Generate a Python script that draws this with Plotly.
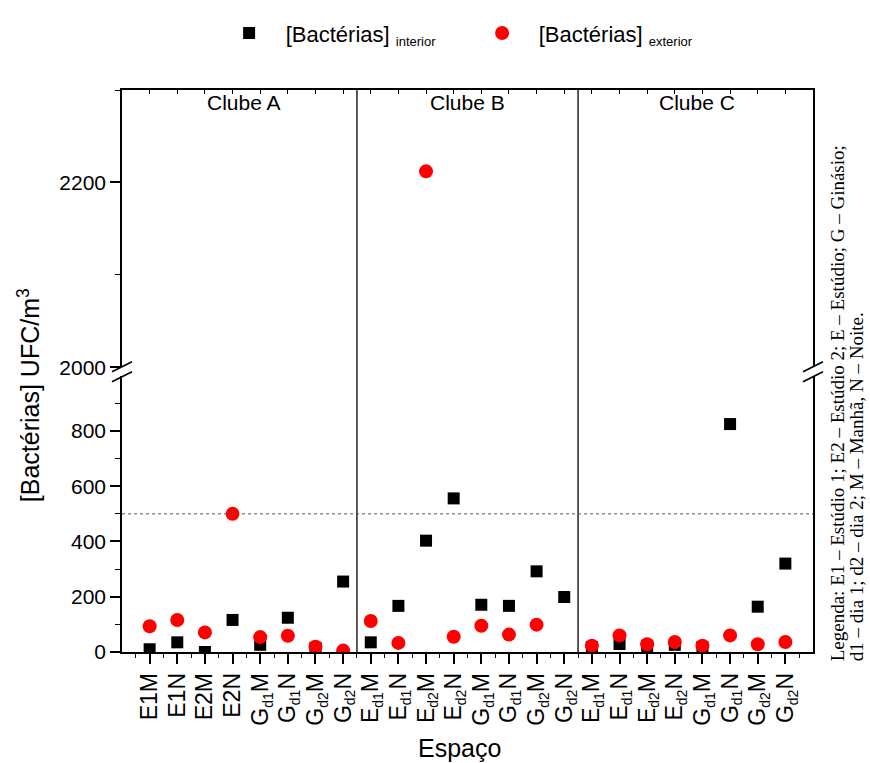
import plotly.graph_objects as go

# ---------------- data ----------------
def sub(s):
    return "<sub><span style='font-size:14px'>" + s + "</span></sub>"

categories = (
    ["E1M", "E1N", "E2M", "E2N",
     "G" + sub("d1") + "M", "G" + sub("d1") + "N", "G" + sub("d2") + "M", "G" + sub("d2") + "N"]
    + ["E" + sub("d1") + "M", "E" + sub("d1") + "N", "E" + sub("d2") + "M", "E" + sub("d2") + "N",
       "G" + sub("d1") + "M", "G" + sub("d1") + "N", "G" + sub("d2") + "M", "G" + sub("d2") + "N"] * 2
)
clubs = ["Clube A", "Clube B", "Clube C"]
interior = [10, 35, 0, 116, 26, 124, 15, 255,
            35, 167, 403, 556, 171, 167, 292, 199,
            18, 29, 22, 26, 18, 825, 164, 320]
exterior = [93, 116, 71, 500, 54, 59, 19, 5,
            112, 33, 2212, 55, 95, 63, 99, None,
            23, 60, 28, 36, 23, 60, 28, 36]
limit_line = 500
high_range = [2000, 2300]
low_range = [0, 999]

xs = list(range(len(categories)))

def low(v):
    return [a if (a is not None and a < 1000) else None for a in v]

def high(v):
    return [a if (a is not None and a >= 2000) else None for a in v]

FONT = "Liberation Sans, Arial, sans-serif"

fig = go.Figure()
sq = dict(symbol="square", size=12, color="black")
ci = dict(symbol="circle", size=14, color="#ff0000")
GAP = "\u00a0\u00a0\u2009"
lab_int = GAP + "[Bactérias] <sub><span style='font-size:13px'>interior</span></sub>"
lab_ext = GAP + "[Bactérias] <sub><span style='font-size:13px'>exterior</span></sub>"

fig.add_trace(go.Scatter(x=xs, y=low(interior), mode="markers", marker=sq,
                         name=lab_int, xaxis="x", yaxis="y"))
fig.add_trace(go.Scatter(x=xs, y=low(exterior), mode="markers", marker=ci,
                         name=lab_ext, xaxis="x", yaxis="y"))
fig.add_trace(go.Scatter(x=xs, y=high(interior), mode="markers", marker=sq,
                         showlegend=False, xaxis="x2", yaxis="y2"))
fig.add_trace(go.Scatter(x=xs, y=high(exterior), mode="markers", marker=ci,
                         showlegend=False, xaxis="x2", yaxis="y2"))

LW = 1.6
common_x = dict(range=[-1, len(categories)], showgrid=False, zeroline=False,
                showline=True, linecolor="black", linewidth=LW)
right_ticks = dict(side="right", showline=False, showgrid=False, zeroline=False,
                   showticklabels=False, ticks="inside", ticklen=5, tickwidth=1,
                   tickcolor="black", tickmode="linear", dtick=100)

fig.update_layout(
    width=870, height=763,
    margin=dict(l=122, r=57, t=90, b=111),
    paper_bgcolor="white", plot_bgcolor="white",
    font=dict(family=FONT, color="black", size=21),
    showlegend=True,
    legend=dict(orientation="h", x=0.155, xanchor="left", y=1.101, yanchor="middle",
                font=dict(size=22, family=FONT), entrywidth=208, entrywidthmode="pixels",
                bgcolor="rgba(0,0,0,0)", itemclick=False),
    xaxis=dict(**common_x, anchor="y", tickmode="array", tickvals=xs, ticktext=categories,
               tickangle=-90, ticks="outside", ticklen=10, tickwidth=LW, tickcolor="black",
               tickfont=dict(size=23, family=FONT),
               minor=dict(tickvals=[i + 0.5 for i in range(-1, len(categories))],
                          ticks="outside", ticklen=4, tickcolor="black", tickwidth=1)),
    xaxis2=dict(**common_x, anchor="y2", side="top", matches="x", tickmode="array",
                tickvals=xs, showticklabels=False, ticks="inside", ticklen=4,
                tickcolor="black", tickwidth=1),
    yaxis=dict(domain=[0, 0.4911], range=low_range, anchor="x", showgrid=False, zeroline=False,
               showline=True, mirror=True, linecolor="black", linewidth=LW,
               tickmode="linear", tick0=0, dtick=200, ticks="outside", ticklen=10,
               tickwidth=LW, tickcolor="black", tickfont=dict(size=21, family=FONT),
               minor=dict(dtick=100, ticks="outside", ticklen=5, tickcolor="black", tickwidth=1)),
    yaxis2=dict(domain=[0.5066, 1], range=high_range, anchor="x2", showgrid=False, zeroline=False,
                showline=True, mirror=True, linecolor="black", linewidth=LW,
                tickmode="linear", tick0=2000, dtick=200, ticks="outside", ticklen=10,
                tickwidth=LW, tickcolor="black", tickfont=dict(size=21, family=FONT),
                minor=dict(dtick=100, ticks="outside", ticklen=5, tickcolor="black", tickwidth=1)),
    yaxis3=dict(overlaying="y", anchor="x", range=low_range, tick0=0, **right_ticks),
    yaxis4=dict(overlaying="y2", anchor="x2", range=high_range, tick0=2000, **right_ticks),
)

# club separators
for b in [7.5, 15.5]:
    fig.add_shape(type="line", xref="x", yref="paper", x0=b, x1=b, y0=0, y1=1,
                  line=dict(color="black", width=1.3))

# limit line
fig.add_shape(type="line", xref="paper", yref="y", x0=0, x1=1, y0=limit_line, y1=limit_line,
              line=dict(color="#555555", width=1, dash="dot"))

# break marks
for xa in [0, 1]:
    for dy in [-5, 5]:
        fig.add_shape(type="line", xref="paper", yref="paper", xsizemode="pixel", ysizemode="pixel",
                      xanchor=xa, yanchor=0.4988, x0=-10, x1=10, y0=dy - 5, y1=dy + 5,
                      line=dict(color="black", width=1.6))

# club labels
for cx, name in zip([3.4, 11.5, 19.8], clubs):
    fig.add_annotation(x=cx, xref="x", y=0.977, yref="paper", text=name, showarrow=False,
                       font=dict(size=21, family=FONT), xanchor="center", yanchor="middle")

# axis titles
fig.add_annotation(x=0.489, xref="paper", y=-0.171, yref="paper", text="Espaço", showarrow=False,
                   font=dict(size=25, family=FONT), xanchor="center", yanchor="middle")
fig.add_annotation(x=-0.1345, xref="paper", y=0.457, yref="paper",
                   text="[Bactérias] UFC/m<sup>3</sup>", showarrow=False, textangle=-90,
                   font=dict(size=25, family=FONT), xanchor="center", yanchor="middle")

# side legend text
SERIF = "Liberation Serif, Times New Roman, serif"
fig.add_annotation(x=1.035, xref="paper", y=-0.018, yref="paper",
                   text="Legenda: E1 – Estúdio 1; E2 – Estúdio 2; E – Estúdio; G – Ginásio;",
                   showarrow=False, textangle=-90, font=dict(size=19, family=SERIF),
                   xanchor="center", yanchor="bottom", borderpad=0)
fig.add_annotation(x=1.063, xref="paper", y=-0.018, yref="paper",
                   text="d1 – dia 1; d2 – dia 2; M – Manhã, N – Noite.",
                   showarrow=False, textangle=-90, font=dict(size=19, family=SERIF),
                   xanchor="center", yanchor="bottom", borderpad=0)

fig.write_html("out.html")
